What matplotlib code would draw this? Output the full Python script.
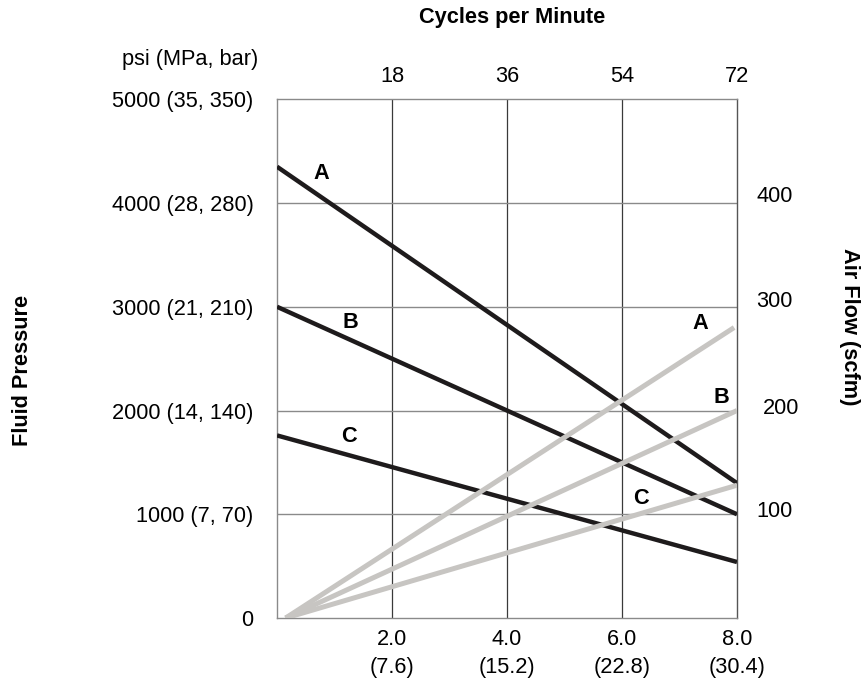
import matplotlib
matplotlib.use("Agg")
import matplotlib.pyplot as plt
from matplotlib.transforms import ScaledTranslation

plt.rcParams['font.family'] = ['Liberation Sans', 'DejaVu Sans']

# fluid pressure (psi) vs air consumption, black lines
pressure_x = [0.0, 8.0]
pressure_a = [4350, 1300]
pressure_b = [3000, 1000]
pressure_c = [1760, 540]

# air flow (scfm) lines, gray
flow_x_start = 0.15
flow_x_end = [7.95, 8.0, 8.0]
flow_a = [0, 280]
flow_b = [0, 200]
flow_c = [0, 128]

bottom_ticks = [2.0, 4.0, 6.0, 8.0]
bottom_labels = ["2.0\n(7.6)", "4.0\n(15.2)", "6.0\n(22.8)", "8.0\n(30.4)"]
top_labels = ["18", "36", "54", "72"]
left_ticks = [0, 1000, 2000, 3000, 4000, 5000]
left_labels = ["0", "1000 (7, 70)", "2000 (14, 140)", "3000 (21, 210)",
               "4000 (28, 280)", "5000 (35, 350)"]
right_ticks = [100, 200, 300, 400]

FS = 15.7
black = "#1e1b1c"
gray = "#c7c5c2"
frame = "#8a8a8a"

fig = plt.figure(figsize=(8.63, 6.79), dpi=100)
ax = fig.add_axes([0.321, 0.0898, 0.533, 0.764])
ax.set_xlim(0, 8)
ax.set_ylim(0, 5000)

# grid
for x in bottom_ticks[:-1]:
    ax.axvline(x, color="#3a3a3a", lw=0.9, zorder=1)
for y in left_ticks[1:-1]:
    ax.axhline(y, color=frame, lw=1.0, zorder=1)
for s in ax.spines.values():
    s.set_color(frame)
    s.set_linewidth(1.0)
ax.spines['right'].set_color("#555555")

for vals in (pressure_a, pressure_b, pressure_c):
    ax.plot(pressure_x, vals, color=black, lw=3.2, solid_capstyle='butt', zorder=3)

ax2 = ax.twinx()
ax2.set_ylim(0, 500)
for xe, vals in zip(flow_x_end, (flow_a, flow_b, flow_c)):
    ax2.plot([flow_x_start, xe], vals, color=gray, lw=3.6, solid_capstyle='butt', zorder=2)
for s in ax2.spines.values():
    s.set_visible(False)

# ticks
ax.set_xticks(bottom_ticks)
ax.set_xticklabels(bottom_labels, fontsize=FS, linespacing=1.4)
ax.set_yticks(left_ticks)
ax.set_yticklabels(left_labels, fontsize=FS)
ax.tick_params(axis='x', length=0, pad=8)
ax.tick_params(axis='y', length=0, pad=17)

ax2.set_yticks(right_ticks)
ax2.set_yticklabels([str(t) for t in right_ticks], fontsize=FS)
ax2.tick_params(axis='y', length=0, pad=14)
# right labels sit a little above their gridlines in the original
shifts = [(0, 5), (6, 5), (0, 8), (0, 9)]
for tick, (dx, dy) in zip(ax2.yaxis.get_major_ticks(), shifts):
    lab = tick.label2
    lab.set_transform(lab.get_transform() + ScaledTranslation(dx / 100, dy / 100, fig.dpi_scale_trans))

axt = ax.secondary_xaxis('top')
axt.set_xticks(bottom_ticks)
axt.set_xticklabels(top_labels, fontsize=FS)
axt.tick_params(length=0, pad=9)
axt.spines['top'].set_visible(False)

# titles
fig.text(512 / 863, 1 - 18 / 679, "Cycles per Minute", fontsize=FS, fontweight='bold',
         ha='center', va='center')
fig.text(22 / 863, 1 - 370 / 679, "Fluid Pressure", fontsize=FS, fontweight='bold',
         rotation=90, ha='center', va='center')
fig.text(849 / 863, 1 - 327 / 679, "Air Flow (scfm)", fontsize=FS, fontweight='bold',
         rotation=-90, ha='center', va='center')
fig.text(190 / 863, 1 - 60 / 679, "psi (MPa, bar)", fontsize=FS, ha='center', va='center')

# curve labels
ax.text(0.77, 4280, "A", fontsize=FS, fontweight='bold', ha='center', va='center')
ax.text(1.27, 2850, "B", fontsize=FS, fontweight='bold', ha='center', va='center')
ax.text(1.25, 1745, "C", fontsize=FS, fontweight='bold', ha='center', va='center')
ax.text(7.36, 2840, "A", fontsize=FS, fontweight='bold', ha='center', va='center')
ax.text(7.72, 2130, "B", fontsize=FS, fontweight='bold', ha='center', va='center')
ax.text(6.33, 1150, "C", fontsize=FS, fontweight='bold', ha='center', va='center')

fig.savefig("out.png", dpi=100)
